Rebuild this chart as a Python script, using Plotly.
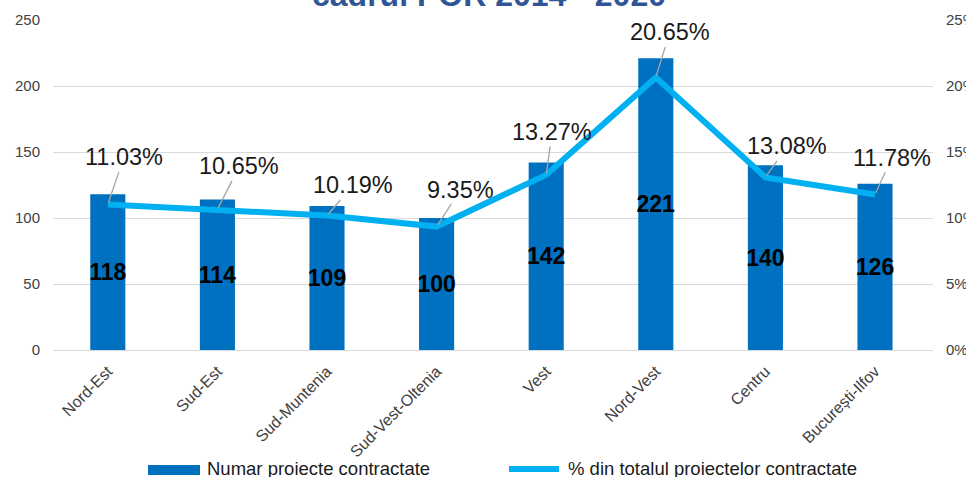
import plotly.graph_objects as go

categories = ["Nord-Est", "Sud-Est", "Sud-Muntenia", "Sud-Vest-Oltenia",
              "Vest", "Nord-Vest", "Centru", "București-Ilfov"]
projects = [118, 114, 109, 100, 142, 221, 140, 126]
percent = [11.03, 10.65, 10.19, 9.35, 13.27, 20.65, 13.08, 11.78]
pct_labels = ["11.03%", "10.65%", "10.19%", "9.35%", "13.27%", "20.65%", "13.08%", "11.78%"]
label_dx = [16, 22, 26, 24, 6, 14, 22, 17]
label_dy = [-47, -43, -30, -37, -43, -45, -31, -37]
series_names = ["Numar proiecte contractate", "% din totalul proiectelor contractate"]

BAR = "#0070C0"
LINE = "#00B0F0"
GRID = "#D9D9D9"
TXT = "#404040"
FONT = "Arial, Liberation Sans"

W, H = 966, 477
ML, MT, MR, MB = 53, 20, 33, 127
PW, PH = W - ML - MR, H - MT - MB


def px(x):
    return (x - ML) / PW


def py(y):
    return (H - MB - y) / PH


fig = go.Figure()
fig.add_trace(go.Bar(
    x=categories, y=projects, name=series_names[0],
    marker=dict(color=BAR, line=dict(width=0)), width=0.32,
    text=[str(v) for v in projects], textposition="inside",
    insidetextanchor="middle", constraintext="none",
    textfont=dict(family=FONT, size=23, color="black", weight="bold"),
    textangle=0, showlegend=False,
))
fig.add_trace(go.Scatter(
    x=categories, y=percent, name=series_names[1],
    mode="lines", line=dict(color=LINE, width=6), yaxis="y2", showlegend=False,
))

for c, p, t, dx, dy in zip(categories, percent, pct_labels, label_dx, label_dy):
    fig.add_annotation(
        x=c, y=p, yref="y2", text=t, showarrow=True, arrowhead=0,
        arrowwidth=1.3, arrowcolor="#A6A6A6", ax=dx, ay=dy, standoff=2,
        font=dict(family=FONT, size=23.5, color="#1a1a1a"),
    )

# title (only its last line is visible at the top edge)
fig.add_annotation(
    text="cadrul POR 2014 - 2020", xref="paper", yref="paper", x=0.495, y=1,
    xanchor="center", yanchor="bottom", yshift=5, showarrow=False,
    font=dict(family=FONT, size=32, color="#2F5597", weight="bold"),
)

# legend (drawn manually, partially cut by the bottom edge)
fig.add_shape(type="rect", xref="paper", yref="paper",
              x0=px(148), x1=px(200), y0=py(475), y1=py(465),
              fillcolor=BAR, line=dict(width=0), layer="above")
fig.add_shape(type="line", xref="paper", yref="paper",
              x0=px(509), x1=px(559), y0=py(469), y1=py(469),
              line=dict(color=LINE, width=6), layer="above")
for name, lx in zip(series_names, [205, 566]):
    fig.add_annotation(
        text=name, xref="paper", yref="paper", x=px(lx), y=py(468),
        xanchor="left", yanchor="middle", showarrow=False,
        font=dict(family=FONT, size=18.5, color="#1a1a1a"),
    )

fig.update_layout(
    width=W, height=H,
    margin=dict(l=ML, r=MR, t=MT, b=MB, autoexpand=False),
    paper_bgcolor="white", plot_bgcolor="white",
    font=dict(family=FONT, color=TXT),
    showlegend=False,
    xaxis=dict(tickangle=-45, tickfont=dict(size=16, color=TXT), showgrid=False,
               showline=False, ticks="", ticklabelstandoff=8),
    yaxis=dict(range=[0, 250], dtick=50, gridcolor=GRID, gridwidth=1.3,
               tickfont=dict(size=15, color=TXT), zeroline=True, zerolinecolor=GRID,
               zerolinewidth=1.3, ticklabelstandoff=12),
    yaxis2=dict(range=[0, 25], dtick=5, overlaying="y", side="right", showgrid=False,
                ticksuffix="%", tickfont=dict(size=15, color=TXT), zeroline=False,
                ticklabelstandoff=12),
)

fig.write_html("out.html", config={"displayModeBar": False},
               post_script="document.body.style.margin='0';")
